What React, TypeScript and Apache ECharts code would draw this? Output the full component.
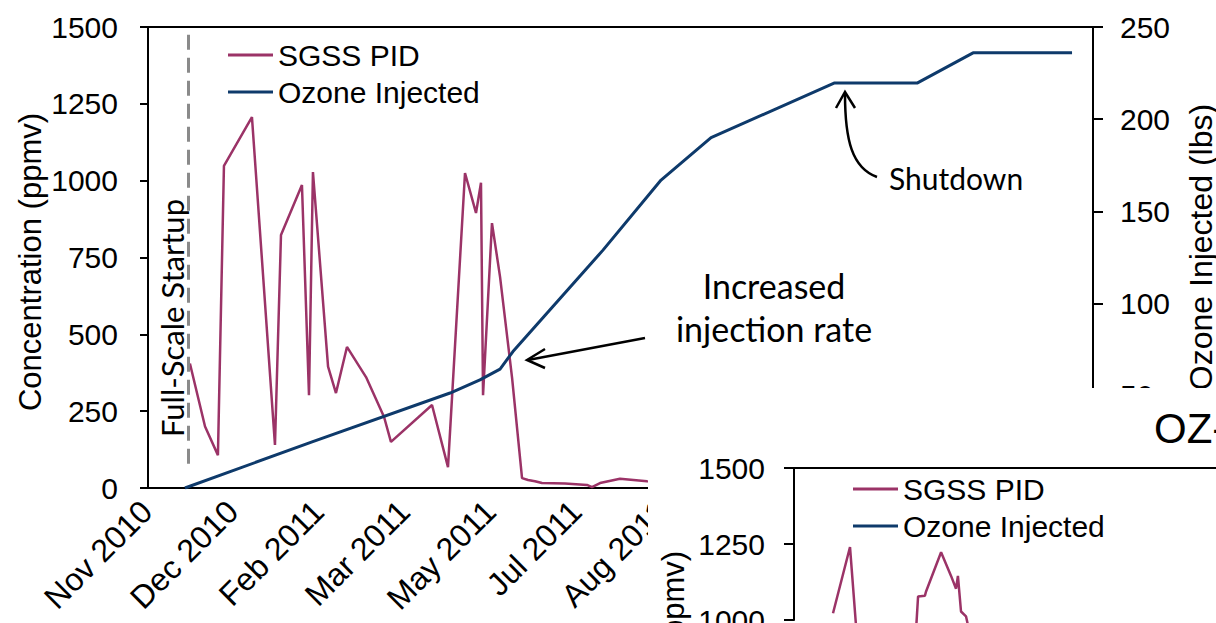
import React, { useEffect, useRef } from 'react';
import * as echarts from 'echarts';

// Date axis: labels every 50 days, starting 1 Nov 2010 (day 0)
const TICK_LABELS = ['Nov 2010', 'Dec 2010', 'Feb 2011', 'Mar 2011', 'May 2011', 'Jul 2011', 'Aug 2011'];
const DAY_STEP = 50;
const DAY_MAX = 550;

// Main chart: SGSS PID concentration (ppmv)
const PID_DAYS = [24.4, 33.2, 40.7, 44.2, 60.5, 73.9, 77.4, 89.6, 93.7, 96.0, 104.8, 109.4, 115.8, 126.9, 137.4, 141.4, 165.3, 174.6, 184.5, 190.9, 193.8, 195.0, 200.2, 204.9, 211.9, 217.7, 221.2, 225.2, 229.3, 242.7, 255.5, 258.4, 263.1, 274.7, 290.4, 309.6];
const PID_PPMV = [405, 200, 107, 1048, 1207, 140, 823, 986, 302, 1028, 395, 309, 459, 361, 231, 150, 270, 68, 1025, 895, 993, 302, 862, 687, 358, 32, 26, 22, 16, 15, 10, 3, 16, 30, 22, 20];

// Main chart: cumulative ozone injected (lbs)
const OZONE_DAYS = [21.5, 95.5, 175.8, 193.2, 204.9, 212.4, 264.8, 298.6, 327.7, 399.3, 447.6, 480.2, 537.8];
const OZONE_LBS = [0, 25, 51.5, 58.6, 64.5, 74, 129, 167, 190, 219.6, 219.6, 236, 236];

// Overlapping second chart: SGSS PID (ppmv), visible part
const OV_DAYS = [22.7, 32.6, 37.2, 69.8, 72.2, 76.2, 76.8, 85.6, 91.4, 94.3, 95.4, 97.2, 100.1, 105.3];
const OV_PPMV = [1022, 1240, 900, 850, 1077, 1080, 1093, 1223, 1145, 1103, 1145, 1028, 1012, 880];
const OV_DAY_MAX = 245.6; // visible part of the second chart's date axis
const OV_PPMV_MIN = 1000; // visible part of the second chart's concentration axis

const STARTUP_DAY = 23.3;
const OV_STARTUP_DAY = 24.4;

const PINK = '#9b3367';
const BLUE = '#0e3a6b';
const FONT = 'Arial, "Liberation Sans", sans-serif';
const ANNOT_FONT = 'Lato, "Open Sans", sans-serif';

export default function App() {
  const ref = useRef<HTMLDivElement>(null);

  useEffect(() => {
    if (!ref.current) return;
    const chart = echarts.init(ref.current, undefined, { renderer: 'svg' });

    const pidData = PID_DAYS.map((d, i) => [d, PID_PPMV[i]]);
    const ozoneData = OZONE_DAYS.map((d, i) => [d, OZONE_LBS[i]]);
    const ovData = OV_DAYS.map((d, i) => [d, OV_PPMV[i]]);

    const axisLineStyle = { color: '#000', width: 2 };
    const labelStyle = { fontSize: 30, color: '#000', fontFamily: FONT };
    const legendBase = {
      orient: 'vertical', itemWidth: 45, itemHeight: 3, itemGap: 7, icon: 'rect',
      data: ['SGSS PID', 'Ozone Injected'],
      textStyle: { fontSize: 30, color: '#000', fontFamily: FONT, lineHeight: 30 },
    };

    const option: any = {
      animation: false,
      backgroundColor: '#ffffff',
      textStyle: { fontFamily: FONT },
      grid: [
        { left: 148, top: 27, width: 945, height: 461, show: true, borderColor: '#000', borderWidth: 2, backgroundColor: 'transparent', outerBoundsMode: 'none' },
        { left: 794, top: 468, width: 422, height: 152, show: false, z: 25, outerBoundsMode: 'none' },
      ],
      xAxis: [
        {
          type: 'value', gridIndex: 0, min: 0, max: DAY_MAX, interval: DAY_STEP,
          axisLine: { show: true, lineStyle: axisLineStyle },
          axisTick: { show: false },
          splitLine: { show: false },
          axisLabel: {
            ...labelStyle, fontSize: 32, rotate: 45, margin: -6, align: 'right', verticalAlign: 'top', padding: [0, 18, 0, 0],
            formatter: (v: number) => TICK_LABELS[Math.round(v / DAY_STEP)] ?? '',
          },
        },
        { type: 'value', gridIndex: 1, min: 0, max: OV_DAY_MAX, show: false },
        {
          type: 'value', gridIndex: 1, position: 'top', min: 0, max: OV_DAY_MAX, z: 30,
          axisLine: { show: true, lineStyle: axisLineStyle },
          axisTick: { show: false }, axisLabel: { show: false }, splitLine: { show: false },
        },
      ],
      yAxis: [
        {
          type: 'value', gridIndex: 0, position: 'left', min: 0, max: 1500, interval: 250,
          axisLine: { show: true, lineStyle: axisLineStyle },
          axisTick: { show: true, length: 8, lineStyle: axisLineStyle },
          splitLine: { show: false },
          axisLabel: { ...labelStyle, margin: 30, padding: [0, 0, 8, 0], formatter: (v: number) => String(v) },
        },
        {
          type: 'value', gridIndex: 0, position: 'right', min: 0, max: 250, interval: 50,
          axisLine: { show: true, lineStyle: axisLineStyle },
          axisTick: { show: true, length: 10, lineStyle: axisLineStyle },
          splitLine: { show: false },
          axisLabel: { ...labelStyle, margin: 27, padding: [0, 0, 8, 0], formatter: (v: number) => (v === 0 ? '' : String(v)) },
        },
        {
          type: 'value', gridIndex: 1, position: 'left', min: OV_PPMV_MIN, max: 1500, interval: 250, z: 30,
          axisLine: { show: true, lineStyle: axisLineStyle },
          axisTick: { show: true, length: 10, lineStyle: axisLineStyle },
          splitLine: { show: false },
          axisLabel: { ...labelStyle, margin: 29, padding: [0, 0, 8, 0], formatter: (v: number) => String(v) },
        },
      ],
      legend: [
        { ...legendBase, left: 223, top: 35 },
        { ...legendBase, left: 848, top: 469, z: 31 },
      ],
      series: [
        {
          name: 'SGSS PID', type: 'line', xAxisIndex: 0, yAxisIndex: 0, data: pidData,
          showSymbol: false, symbol: 'none', color: PINK, lineStyle: { color: PINK, width: 2.5 },
          markLine: {
            silent: true, symbol: ['none', 'none'], label: { show: false },
            lineStyle: { color: '#8a8a8a', type: [15, 8], width: 3 },
            data: [[{ coord: [STARTUP_DAY, 1475] }, { coord: [STARTUP_DAY, 65] }]],
          },
        },
        {
          name: 'Ozone Injected', type: 'line', xAxisIndex: 0, yAxisIndex: 1, data: ozoneData,
          showSymbol: false, symbol: 'none', color: BLUE, lineStyle: { color: BLUE, width: 3 },
        },
        {
          name: 'SGSS PID', type: 'line', xAxisIndex: 1, yAxisIndex: 2, data: ovData, z: 30, clip: false,
          showSymbol: false, symbol: 'none', color: PINK, lineStyle: { color: PINK, width: 2.5 },
          markLine: {
            silent: true, symbol: ['none', 'none'], label: { show: false }, z: 30,
            lineStyle: { color: '#8a8a8a', type: [15, 8], width: 3 },
            data: [[{ coord: [OV_STARTUP_DAY, 1480] }, { coord: [OV_STARTUP_DAY, 980] }]],
          },
        },
      ],
      graphic: [
        // partially visible title at the very top
        { type: 'text', x: 616, y: -15.5, z: 1, style: { text: 'OZ-1 SGD', fontSize: 42, fontFamily: FONT, fill: '#000', align: 'center', verticalAlign: 'middle' } },
        // axis titles
        { type: 'text', x: 30, y: 262, rotation: Math.PI / 2, z: 1, style: { text: 'Concentration (ppmv)', fontSize: 31, fontFamily: FONT, fill: '#000', align: 'center', verticalAlign: 'middle' } },
        { type: 'text', x: 1201, y: 247, rotation: Math.PI / 2, z: 1, style: { text: 'Ozone Injected (lbs)', fontSize: 32, fontFamily: FONT, fill: '#000', align: 'center', verticalAlign: 'middle' } },
        // annotations
        { type: 'text', x: 172, y: 318, rotation: Math.PI / 2, z: 3, style: { text: 'Full-Scale Startup', fontSize: 31, fontFamily: ANNOT_FONT, fill: '#000', align: 'center', verticalAlign: 'middle' } },
        { type: 'text', x: 774, y: 285, z: 3, style: { text: 'Increased', fontSize: 34, fontFamily: ANNOT_FONT, fill: '#000', align: 'center', verticalAlign: 'middle' } },
        { type: 'text', x: 774, y: 328, z: 3, style: { text: 'injection rate', fontSize: 34, fontFamily: ANNOT_FONT, fill: '#000', align: 'center', verticalAlign: 'middle' } },
        { type: 'line', z: 3, shape: { x1: 645, y1: 338, x2: 528, y2: 360 }, style: { stroke: '#000', lineWidth: 2.5 } },
        { type: 'polyline', z: 3, shape: { points: [[545, 349], [527, 360], [545, 368]] }, style: { stroke: '#000', lineWidth: 2.5, fill: null } },
        { type: 'text', x: 889, y: 178, z: 3, style: { text: 'Shutdown', fontSize: 30, fontFamily: ANNOT_FONT, fill: '#000', align: 'left', verticalAlign: 'middle' } },
        { type: 'bezierCurve', z: 3, shape: { x1: 845, y1: 94, x2: 877, y2: 177, cpx1: 845, cpy1: 140, cpx2: 852, cpy2: 168 }, style: { stroke: '#000', lineWidth: 2.5, fill: null } },
        { type: 'polyline', z: 3, shape: { points: [[836, 108], [845, 92], [855, 108]] }, style: { stroke: '#000', lineWidth: 2.5, fill: null } },
        // overlapping second chart (white panel)
        { type: 'rect', z: 20, shape: { x: 648, y: 388, width: 600, height: 260 }, style: { fill: '#ffffff' } },
        { type: 'text', x: 1154, y: 428.5, z: 31, style: { text: 'OZ-2 SGD', fontSize: 42, fontFamily: FONT, fill: '#000', align: 'left', verticalAlign: 'middle' } },
        { type: 'text', x: 673, y: 700, rotation: Math.PI / 2, z: 31, style: { text: 'Concentration (ppmv)', fontSize: 31, fontFamily: FONT, fill: '#000', align: 'center', verticalAlign: 'middle' } },
      ],
    };

    chart.setOption(option);
    return () => chart.dispose();
  }, []);

  return (
    <div
      ref={ref}
      style={{ position: 'fixed', left: 0, top: 0, width: 1216, height: 623, overflow: 'hidden', background: '#fff' }}
    />
  );
}
